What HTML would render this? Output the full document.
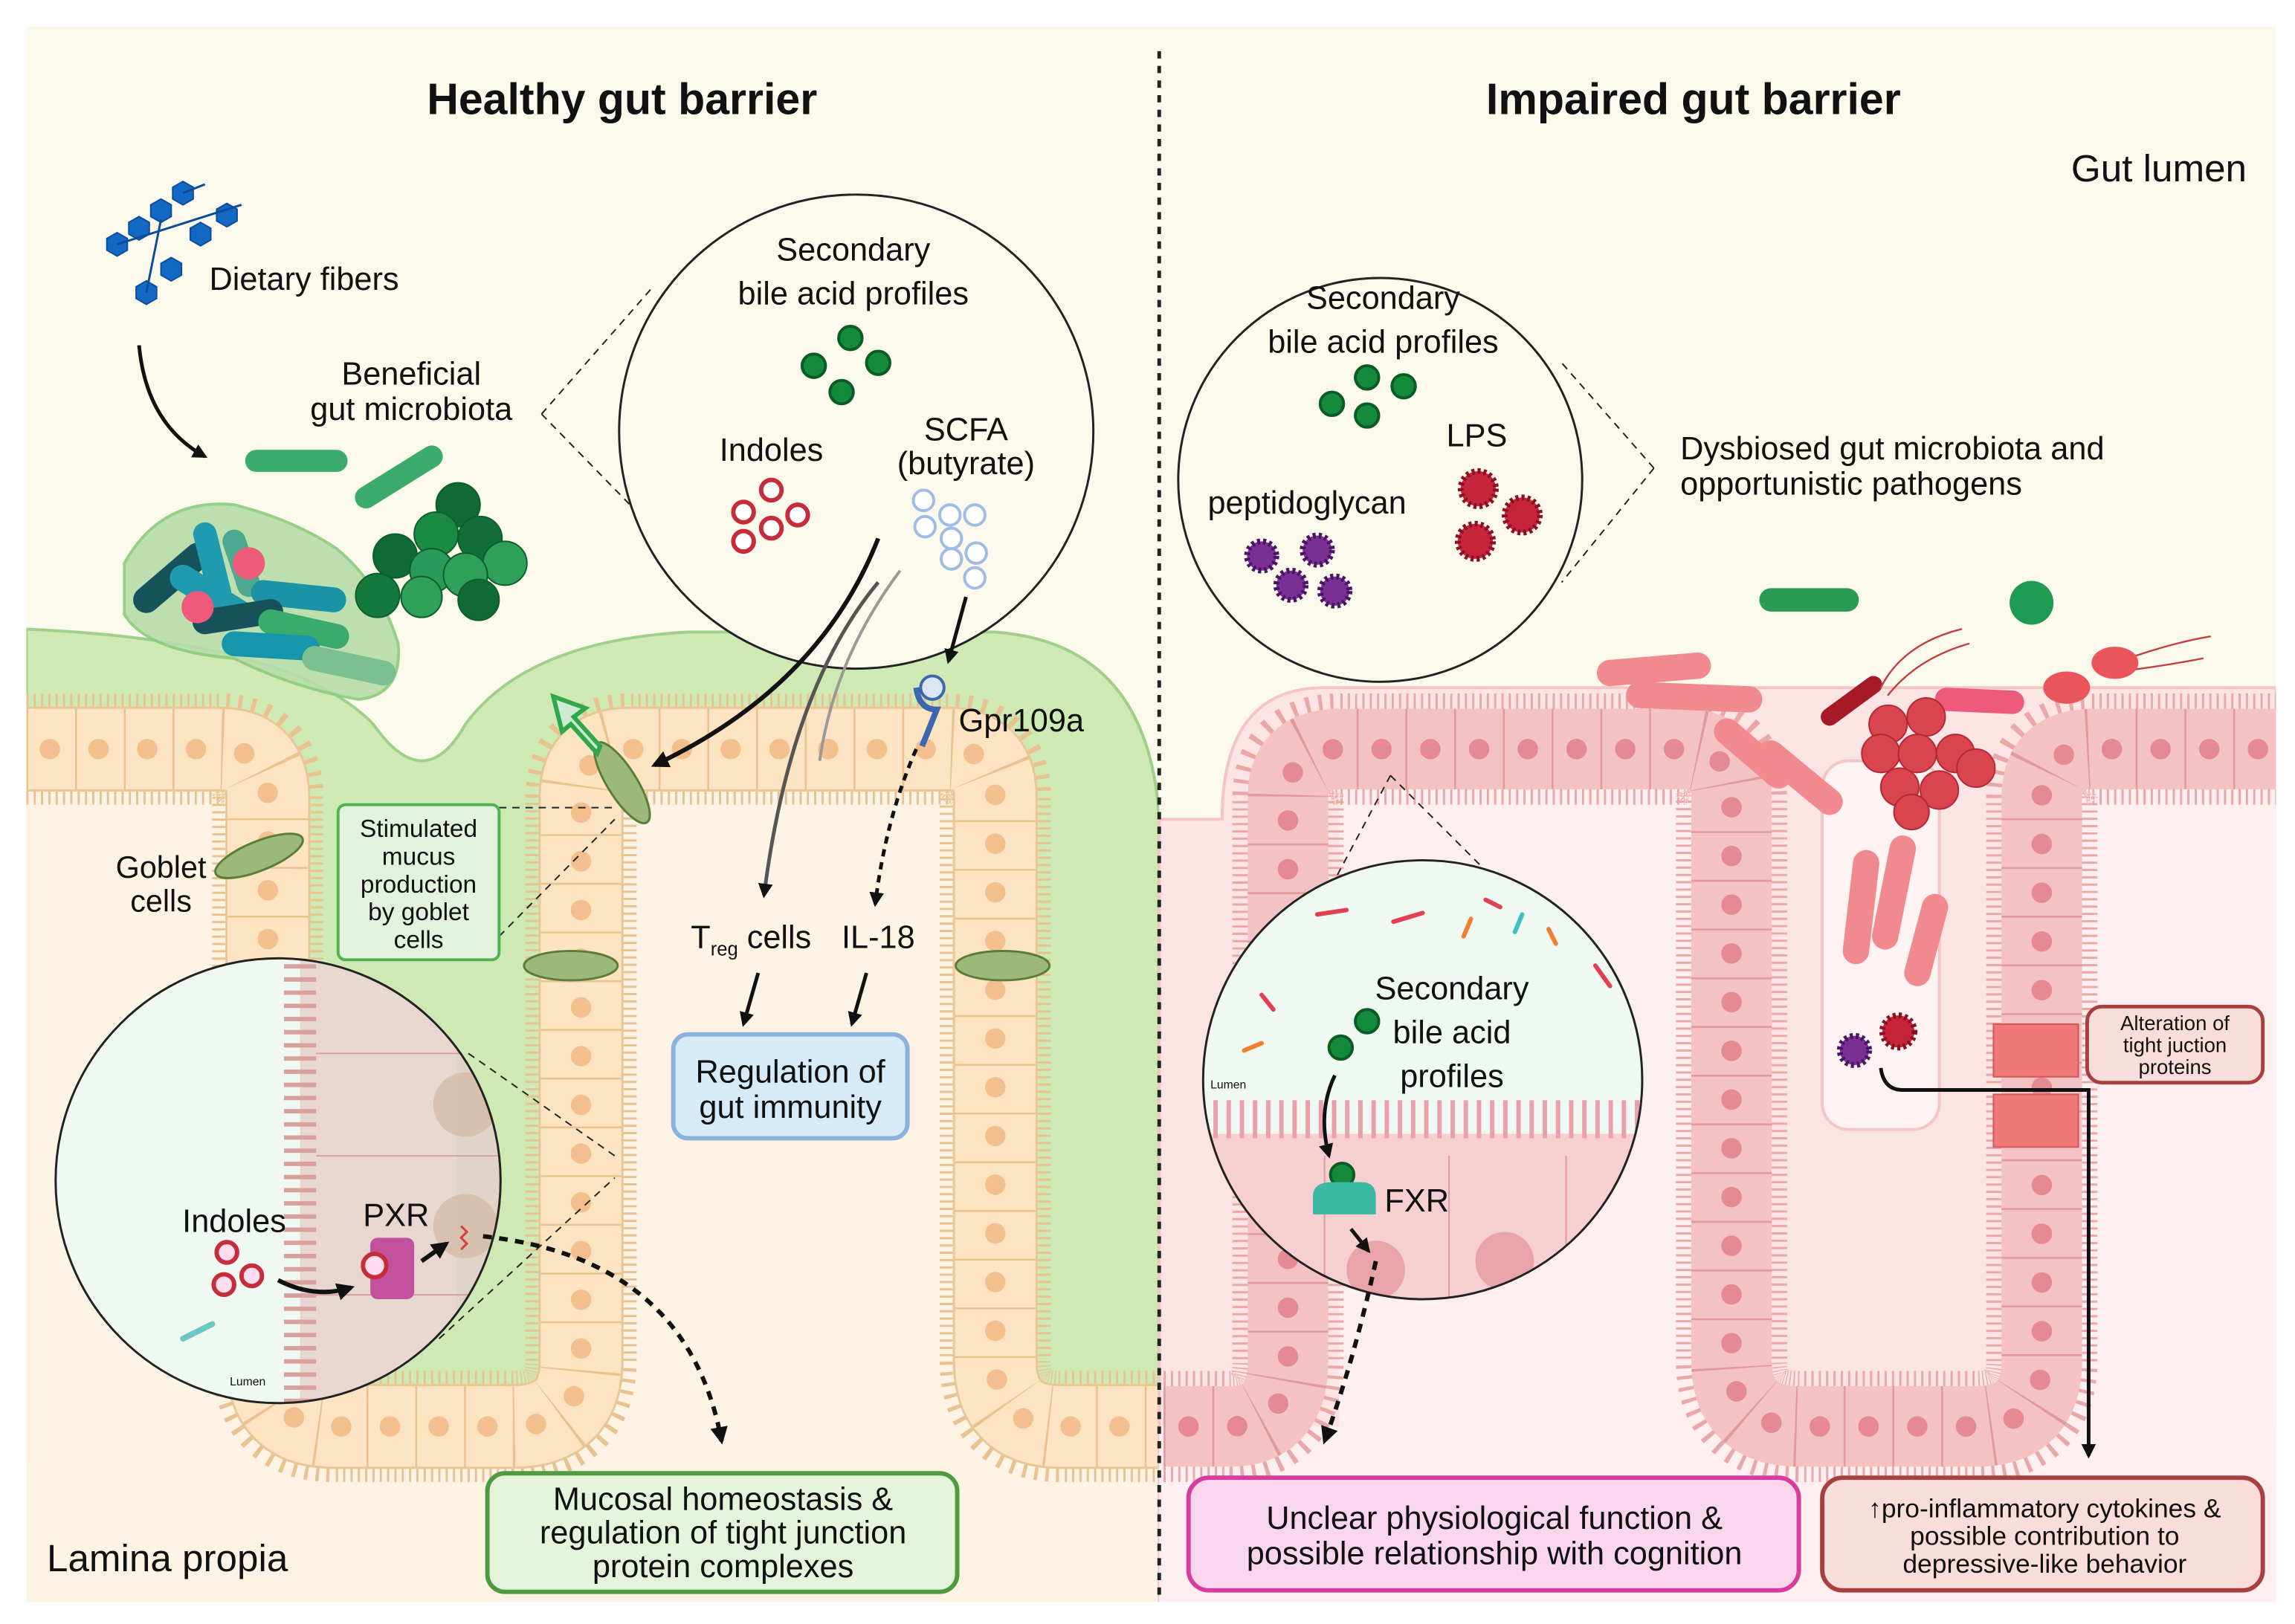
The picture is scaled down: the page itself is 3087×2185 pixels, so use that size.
<!DOCTYPE html>
<html><head><meta charset="utf-8"><style>
html,body{margin:0;padding:0;background:#fff}
svg{display:block}
text{font-family:"Liberation Sans",sans-serif;fill:#111}
</style></head><body>
<svg width="3087" height="2185" viewBox="0 0 1568 1110" preserveAspectRatio="none" xmlns="http://www.w3.org/2000/svg">
<defs>
<marker id="ah" viewBox="0 0 10 10" refX="8" refY="5" markerWidth="4" markerHeight="4" orient="auto"><path d="M0,0 L10,5 L0,10 Z" fill="#111"/></marker>
<clipPath id="panel"><rect x="18" y="18" width="1537" height="1077"/></clipPath>
</defs>
<rect width="1568" height="1110" fill="#fff"/>
<g clip-path="url(#panel)">
<!-- LEFT PANEL -->
<rect x="18" y="18" width="774" height="1077" fill="#fbf8ec"/>
<path d="M18 430 Q200 438 255 495 Q290 545 318 495 Q360 438 470 432 H680 Q785 440 792 560 V1000 H18 Z" fill="#cfe9b4" stroke="#9fd08a" stroke-width="2"/>
<rect x="18" y="512" width="165" height="583" fill="#fdf3e4"/>
<rect x="397" y="512" width="283" height="583" fill="#fdf3e4"/>
<rect x="18" y="975" width="774" height="120" fill="#fdf3e4"/>
<g fill="none" stroke-linejoin="round">
<path d="M18 512 H150 Q183 512 183 545 V930 Q183 975 228 975 H350 Q397 975 397 930 V545 Q397 512 430 512 H648 Q680 512 680 545 V930 Q680 975 725 975 H792" stroke="#e8c391" stroke-width="76" stroke-dasharray="1.5 3.5"/>
<path d="M18 512 H150 Q183 512 183 545 V930 Q183 975 228 975 H350 Q397 975 397 930 V545 Q397 512 430 512 H648 Q680 512 680 545 V930 Q680 975 725 975 H792" stroke="#e9c697" stroke-width="58"/>
<path d="M18 512 H150 Q183 512 183 545 V930 Q183 975 228 975 H350 Q397 975 397 930 V545 Q397 512 430 512 H648 Q680 512 680 545 V930 Q680 975 725 975 H792" stroke="#fce4c2" stroke-width="55"/>
<path d="M18 512 H150 Q183 512 183 545 V930 Q183 975 228 975 H350 Q397 975 397 930 V545 Q397 512 430 512 H648 Q680 512 680 545 V930 Q680 975 725 975 H792" stroke="#e8c391" stroke-width="55" stroke-dasharray="1.3 32"/>
<path d="M34 512 H150 Q183 512 183 545 V930 Q183 975 228 975 H350 Q397 975 397 930 V545 Q397 512 430 512 H648 Q680 512 680 545 V930 Q680 975 725 975 H792" stroke="#f3bf8f" stroke-width="14" stroke-linecap="round" stroke-dasharray="0 33.3"/>
</g>
<g fill="#9bb97a" stroke="#5c7d3a" stroke-width="1.5">
<ellipse cx="177" cy="585" rx="32" ry="10" transform="rotate(-22 177 585)"/>
<ellipse cx="425" cy="535" rx="32" ry="10" transform="rotate(58 425 535)"/>
<ellipse cx="390" cy="660" rx="32" ry="10"/>
<ellipse cx="685" cy="660" rx="32" ry="10"/>
</g>
<path d="M410 510 L392 490 L400 484 L378 476 L384 500 L390 495 L408 515 Z" fill="#cfe9d4" stroke="#2ea84a" stroke-width="3"/>
<text x="425" y="78" font-size="30" font-weight="bold" text-anchor="middle">Healthy gut barrier</text>
<g fill="#1368c4" stroke="#0b4d99" stroke-width="1">
<polygon points="73,163 80,159 87,163 87,171 80,175 73,171"/>
<polygon points="88,152 95,148 102,152 102,160 95,164 88,160"/>
<polygon points="103,140 110,136 117,140 117,148 110,152 103,148"/>
<polygon points="118,128 125,124 132,128 132,136 125,140 118,136"/>
<polygon points="130,156 137,152 144,156 144,164 137,168 130,164"/>
<polygon points="148,143 155,139 162,143 162,151 155,155 148,151"/>
<polygon points="110,180 117,176 124,180 124,188 117,192 110,188"/>
<polygon points="93,196 100,192 107,196 107,204 100,208 93,204"/>
</g>
<path d="M80 167 L165 140 M110 150 L100 200 M125 132 L140 126" stroke="#0b4d99" stroke-width="1.5"/>
<text x="143" y="198" font-size="22">Dietary fibers</text>
<path d="M95 236 Q100 290 140 312" fill="none" stroke="#111" stroke-width="2.5" marker-end="url(#ah)"/>
<text x="281" y="263" font-size="22" text-anchor="middle">Beneficial</text>
<text x="281" y="287" font-size="22" text-anchor="middle">gut microbiota</text>
<path d="M85 385 Q110 340 160 345 Q200 355 230 375 Q260 400 272 440 Q275 475 245 478 Q200 470 160 450 Q100 445 85 420 Z" fill="#b7ddaa" stroke="#8ccb7c" stroke-width="2" opacity="0.9"/>
<g stroke-linecap="round" fill="none">
<path d="M100 410 L135 380" stroke="#15525a" stroke-width="18"/>
<path d="M125 395 L165 420" stroke="#1f9aaf" stroke-width="18"/>
<path d="M140 365 L150 405" stroke="#1f9aaf" stroke-width="16"/>
<path d="M160 370 L170 400" stroke="#4ea78f" stroke-width="16"/>
<path d="M180 405 L228 410" stroke="#1b93a6" stroke-width="17"/>
<path d="M140 425 L185 418" stroke="#17525a" stroke-width="17"/>
<path d="M185 425 L230 435" stroke="#3aab6b" stroke-width="17"/>
<path d="M160 440 L210 443" stroke="#1695ab" stroke-width="17"/>
<path d="M215 450 L262 460" stroke="#7cc090" stroke-width="17"/>
<path d="M175 315 L230 315" stroke="#3aab6b" stroke-width="15"/>
<path d="M250 340 L295 312" stroke="#3aab6b" stroke-width="15"/>
</g>
<circle cx="170" cy="385" r="11" fill="#ef5a7a"/>
<circle cx="135" cy="415" r="11" fill="#ef5a7a"/>
<g stroke="#0d5e2b" stroke-width="1">
<circle cx="313" cy="345" r="15" fill="#0f6a33"/><circle cx="298" cy="365" r="15" fill="#1a8a45"/>
<circle cx="328" cy="368" r="15" fill="#126d36"/><circle cx="270" cy="380" r="15" fill="#0f6a33"/>
<circle cx="345" cy="385" r="15" fill="#2fa05a"/><circle cx="295" cy="390" r="15" fill="#2b9a58"/>
<circle cx="318" cy="393" r="15" fill="#2fa05a"/><circle cx="258" cy="407" r="15" fill="#13783b"/>
<circle cx="288" cy="408" r="14" fill="#2fa05a"/><circle cx="327" cy="410" r="14" fill="#0f6a33"/>
</g>
<line x1="370" y1="283" x2="447" y2="195" stroke="#222" stroke-dasharray="5 4"/>
<line x1="370" y1="283" x2="447" y2="362" stroke="#222" stroke-dasharray="5 4"/>
<circle cx="585" cy="295" r="162" fill="#fbf8ec" stroke="#222" stroke-width="1.5"/>
<text x="583" y="178" font-size="22" text-anchor="middle">Secondary</text>
<text x="583" y="208" font-size="22" text-anchor="middle">bile acid profiles</text>
<g fill="#148a3c" stroke="#0b5b24" stroke-width="2">
<circle cx="581" cy="231" r="8"/><circle cx="556" cy="250" r="8"/><circle cx="600" cy="248" r="8"/><circle cx="575" cy="268" r="8"/>
</g>
<text x="527" y="315" font-size="22" text-anchor="middle">Indoles</text>
<g fill="#fff" stroke="#c62d3b" stroke-width="3">
<circle cx="527" cy="335" r="7"/><circle cx="508" cy="350" r="7"/><circle cx="545" cy="352" r="7"/><circle cx="527" cy="361" r="7"/><circle cx="508" cy="370" r="7"/>
</g>
<text x="660" y="301" font-size="22" text-anchor="middle">SCFA</text>
<text x="660" y="324" font-size="22" text-anchor="middle">(butyrate)</text>
<g fill="#fff" stroke="#9fbce6" stroke-width="2">
<circle cx="631" cy="342" r="7"/><circle cx="649" cy="352" r="7"/><circle cx="666" cy="352" r="7"/><circle cx="632" cy="360" r="7"/><circle cx="650" cy="368" r="7"/><circle cx="667" cy="378" r="7"/><circle cx="650" cy="382" r="7"/><circle cx="666" cy="395" r="7"/>
</g>
<path d="M600 368 Q560 470 447 523" fill="none" stroke="#111" stroke-width="3" marker-end="url(#ah)"/>
<path d="M600 398 Q540 470 522 612" fill="none" stroke="#555" stroke-width="2.5" marker-end="url(#ah)"/>
<path d="M615 390 Q570 450 560 520" fill="none" stroke="#999" stroke-width="2"/>
<path d="M660 408 L648 452" fill="none" stroke="#111" stroke-width="2.5" marker-end="url(#ah)"/>
<circle cx="637" cy="470" r="8" fill="#dbe6f5" stroke="#3b66b0" stroke-width="2"/>
<path d="M626 470 Q628 485 640 485 L630 510" fill="none" stroke="#3b66b0" stroke-width="4"/>
<text x="655" y="500" font-size="22">Gpr109a</text>
<path d="M626 512 Q605 560 598 618" fill="none" stroke="#111" stroke-width="2.5" stroke-dasharray="5 4" marker-end="url(#ah)"/>
<text x="472" y="648" font-size="22">T<tspan font-size="13" dy="5">reg</tspan><tspan dy="-5"> cells</tspan></text>
<text x="575" y="648" font-size="22">IL-18</text>
<path d="M518 665 L508 700" stroke="#111" stroke-width="2.5" marker-end="url(#ah)"/>
<path d="M592 665 L582 700" stroke="#111" stroke-width="2.5" marker-end="url(#ah)"/>
<rect x="460" y="707" width="160" height="71" rx="10" fill="#d6ebf7" stroke="#8bb2dc" stroke-width="3"/>
<text x="540" y="740" font-size="22" text-anchor="middle">Regulation of</text>
<text x="540" y="764" font-size="22" text-anchor="middle">gut immunity</text>
<text x="110" y="600" font-size="21" text-anchor="middle">Goblet</text>
<text x="110" y="623" font-size="21" text-anchor="middle">cells</text>
<line x1="341" y1="552" x2="420" y2="552" stroke="#222" stroke-dasharray="5 4"/>
<line x1="341" y1="640" x2="420" y2="560" stroke="#222" stroke-dasharray="5 4"/>
<rect x="231" y="550" width="110" height="106" rx="5" fill="#e3f1df" stroke="#4fb34f" stroke-width="2"/>
<g font-size="17" text-anchor="middle"><text x="286" y="572">Stimulated</text><text x="286" y="591">mucus</text><text x="286" y="610">production</text><text x="286" y="629">by goblet</text><text x="286" y="648">cells</text></g>
<line x1="320" y1="720" x2="420" y2="790" stroke="#222" stroke-dasharray="5 4"/>
<line x1="300" y1="915" x2="420" y2="805" stroke="#222" stroke-dasharray="5 4"/>
<clipPath id="c1"><circle cx="190" cy="807" r="152"/></clipPath>
<g clip-path="url(#c1)">
<rect x="30" y="650" width="320" height="320" fill="#f0f8f2"/>
<rect x="205" y="650" width="145" height="320" fill="#e7d7d0"/>
<rect x="312" y="650" width="40" height="320" fill="#e0d4c9"/>
<path d="M205 650 V970" stroke="#d9a0a0" stroke-width="22" stroke-dasharray="3 6" fill="none"/>
<line x1="216" y1="720" x2="350" y2="720" stroke="#d9a0a0"/>
<line x1="216" y1="790" x2="350" y2="790" stroke="#d9a0a0"/>
<line x1="216" y1="885" x2="350" y2="885" stroke="#d9a0a0"/>
<circle cx="318" cy="755" r="22" fill="#d5bca8" opacity="0.8"/>
<circle cx="318" cy="838" r="22" fill="#d5bca8" opacity="0.8"/>
</g>
<circle cx="190" cy="807" r="152" fill="none" stroke="#222" stroke-width="1.5"/>
<text x="160" y="842" font-size="22" text-anchor="middle">Indoles</text>
<text x="248" y="838" font-size="22">PXR</text>
<g fill="#fde" stroke="#c62d3b" stroke-width="3"><circle cx="155" cy="856" r="7"/><circle cx="153" cy="878" r="7"/><circle cx="172" cy="872" r="7"/></g>
<rect x="253" y="846" width="30" height="42" rx="5" fill="#c2529e"/>
<circle cx="256" cy="865" r="8" fill="#fde" stroke="#c62d3b" stroke-width="3"/>
<path d="M190 875 Q215 888 240 880" fill="none" stroke="#111" stroke-width="3" marker-end="url(#ah)"/>
<path d="M288 862 L305 850" stroke="#111" stroke-width="3" marker-end="url(#ah)"/>
<path d="M315 838 l4 4 l-4 4 l4 4 l-4 4" stroke="#d04040" fill="none" stroke-width="1.5"/>
<path d="M125 915 L145 905" stroke="#6cc8c0" stroke-width="4" stroke-linecap="round"/>
<text x="157" y="947" font-size="8" fill="#2a6a4a">Lumen</text>
<path d="M330 845 Q470 860 493 985" fill="none" stroke="#111" stroke-width="3" stroke-dasharray="6 5" marker-end="url(#ah)"/>
<rect x="333" y="1007" width="321" height="81" rx="12" fill="#e6f3dc" stroke="#4e9a3e" stroke-width="3"/>
<g font-size="22" text-anchor="middle"><text x="494" y="1032">Mucosal homeostasis &amp;</text><text x="494" y="1055">regulation of tight junction</text><text x="494" y="1078">protein complexes</text></g>
<text x="32" y="1074" font-size="26">Lamina propia</text>

<!-- RIGHT PANEL -->
<rect x="792" y="18" width="763" height="1077" fill="#fbf8ec"/>
<path d="M835 560 Q835 470 905 470 H1555 V1095 H792 V560 Z" fill="#fce4e4" stroke="#f5c4c4" stroke-width="2"/>
<rect x="915" y="512" width="268" height="583" fill="#fdeef0"/>
<rect x="1395" y="512" width="160" height="583" fill="#fdeef0"/>
<rect x="792" y="975" width="763" height="120" fill="#fdeef0"/>
<rect x="1245" y="520" width="80" height="252" rx="18" fill="#fdf3f2" stroke="#f5c4c4" stroke-width="2"/>
<g fill="none" stroke-linejoin="round">
<path d="M795 975 H840 Q880 975 880 930 V545 Q880 512 915 512 H1150 Q1183 512 1183 545 V930 Q1183 975 1230 975 H1350 Q1395 975 1395 930 V545 Q1395 512 1430 512 H1555" stroke="#e9a8a8" stroke-width="76" stroke-dasharray="1.5 3.5"/>
<path d="M795 975 H840 Q880 975 880 930 V545 Q880 512 915 512 H1150 Q1183 512 1183 545 V930 Q1183 975 1230 975 H1350 Q1395 975 1395 930 V545 Q1395 512 1430 512 H1555" stroke="#f4c2c2" stroke-width="55"/>
<path d="M795 975 H840 Q880 975 880 930 V545 Q880 512 915 512 H1150 Q1183 512 1183 545 V930 Q1183 975 1230 975 H1350 Q1395 975 1395 930 V545 Q1395 512 1430 512 H1555" stroke="#e09a9e" stroke-width="55" stroke-dasharray="1.3 32"/>
<path d="M812 975 H840 Q880 975 880 930 V545 Q880 512 915 512 H1150 Q1183 512 1183 545 V930 Q1183 975 1230 975 H1350 Q1395 975 1395 930 V545 Q1395 512 1430 512 H1555" stroke="#e58a92" stroke-width="14" stroke-linecap="round" stroke-dasharray="0 33.3"/>
</g>
<rect x="1362" y="700" width="58" height="36" fill="#f07878" stroke="#d05858"/>
<rect x="1362" y="748" width="58" height="36" fill="#f07878" stroke="#d05858"/>
<line x1="792" y1="35" x2="792" y2="1092" stroke="#222" stroke-width="2.5" stroke-dasharray="5 5"/>
<text x="1157" y="78" font-size="30" font-weight="bold" text-anchor="middle">Impaired gut barrier</text>
<text x="1535" y="124" font-size="26" text-anchor="end">Gut lumen</text>
<line x1="1130" y1="320" x2="1067" y2="248" stroke="#222" stroke-dasharray="5 4"/>
<line x1="1130" y1="320" x2="1067" y2="398" stroke="#222" stroke-dasharray="5 4"/>
<circle cx="943" cy="328" r="138" fill="#fbf8ec" stroke="#222" stroke-width="1.5"/>
<text x="945" y="211" font-size="22" text-anchor="middle">Secondary</text>
<text x="945" y="241" font-size="22" text-anchor="middle">bile acid profiles</text>
<g fill="#148a3c" stroke="#0b5b24" stroke-width="2"><circle cx="934" cy="258" r="8"/><circle cx="910" cy="276" r="8"/><circle cx="959" cy="264" r="8"/><circle cx="934" cy="284" r="8"/></g>
<text x="893" y="351" font-size="22" text-anchor="middle">peptidoglycan</text>
<text x="1009" y="305" font-size="22" text-anchor="middle">LPS</text>
<g fill="#7a2f93" stroke="#4a1466" stroke-width="4" stroke-dasharray="2 2"><circle cx="862" cy="380" r="10"/><circle cx="900" cy="376" r="10"/><circle cx="882" cy="400" r="10"/><circle cx="912" cy="404" r="10"/></g>
<g fill="#c6243a" stroke="#8c1020" stroke-width="4" stroke-dasharray="2 2"><circle cx="1010" cy="334" r="12"/><circle cx="1040" cy="352" r="12"/><circle cx="1008" cy="370" r="12"/></g>
<text x="1148" y="314" font-size="22">Dysbiosed gut microbiota and</text>
<text x="1148" y="338" font-size="22">opportunistic pathogens</text>
<path d="M1210 410 H1262" stroke="#2a9a55" stroke-width="16" stroke-linecap="round"/>
<circle cx="1388" cy="412" r="15" fill="#1f9a52"/>
<g stroke-linecap="round" fill="none">
<path d="M1100 460 L1160 455" stroke="#f08a8f" stroke-width="18"/>
<path d="M1120 475 L1195 478" stroke="#f08a8f" stroke-width="18"/>
<path d="M1180 500 L1215 530" stroke="#f08a8f" stroke-width="18"/>
<path d="M1210 515 L1250 548" stroke="#f08a8f" stroke-width="18"/>
<path d="M1275 590 L1268 650" stroke="#f08a8f" stroke-width="18"/>
<path d="M1300 580 L1288 640" stroke="#f08a8f" stroke-width="18"/>
<path d="M1322 620 L1310 665" stroke="#f08a8f" stroke-width="18"/>
<path d="M1250 490 L1280 468" stroke="#a51a26" stroke-width="12"/>
<path d="M1330 478 L1375 480" stroke="#ee5a7a" stroke-width="16"/>
<path d="M1285 470 Q1300 440 1340 430 M1290 475 Q1310 450 1345 440" stroke="#c04040" stroke-width="1.2"/>
<path d="M1440 455 Q1480 440 1510 435 M1440 460 Q1480 455 1505 450" stroke="#c04040" stroke-width="1.2"/>
</g>
<ellipse cx="1412" cy="470" rx="16" ry="11" fill="#e9555a"/>
<ellipse cx="1445" cy="453" rx="16" ry="11" fill="#e9555a"/>
<g fill="#d9444e" stroke="#b02a36"><circle cx="1290" cy="495" r="13"/><circle cx="1316" cy="490" r="13"/><circle cx="1285" cy="515" r="13"/><circle cx="1310" cy="515" r="13"/><circle cx="1336" cy="515" r="13"/><circle cx="1298" cy="538" r="13"/><circle cx="1325" cy="540" r="13"/><circle cx="1350" cy="525" r="13"/><circle cx="1306" cy="555" r="12"/></g>
<circle cx="1267" cy="718" r="10" fill="#7a2f93" stroke="#4a1466" stroke-width="4" stroke-dasharray="2 2"/>
<circle cx="1297" cy="705" r="11" fill="#c6243a" stroke="#8c1020" stroke-width="4" stroke-dasharray="2 2"/>
<rect x="1426" y="688" width="120" height="52" rx="10" fill="#f9dcdc" stroke="#a8403f" stroke-width="2.5"/>
<g font-size="14" text-anchor="middle"><text x="1486" y="704">Alteration of</text><text x="1486" y="719">tight juction</text><text x="1486" y="734">proteins</text></g>
<path d="M1285 730 Q1287 745 1300 745 H1427 V995" fill="none" stroke="#111" stroke-width="2.5" marker-end="url(#ah)"/>
<line x1="950" y1="530" x2="870" y2="680" stroke="#222" stroke-dasharray="5 4"/>
<line x1="950" y1="530" x2="1045" y2="625" stroke="#222" stroke-dasharray="5 4"/>
<clipPath id="c2"><circle cx="972" cy="738" r="150"/></clipPath>
<g clip-path="url(#c2)">
<rect x="820" y="585" width="305" height="305" fill="#f0f8f2"/>
<rect x="820" y="775" width="305" height="120" fill="#f5cfd2"/>
<path d="M820 765 H1125" stroke="#eaa0a8" stroke-width="26" stroke-dasharray="3 6" fill="none"/>
<line x1="905" y1="790" x2="905" y2="890" stroke="#e09a9e"/>
<line x1="990" y1="790" x2="990" y2="890" stroke="#e09a9e"/>
<line x1="1070" y1="790" x2="1070" y2="890" stroke="#e09a9e"/>
<circle cx="940" cy="868" r="20" fill="#e8a4a8"/>
<circle cx="1028" cy="862" r="20" fill="#e8a4a8"/>
<g stroke-linecap="round" stroke-width="3" fill="none"><path d="M900 625 l20 -3" stroke="#e04050"/><path d="M952 630 l20 -6" stroke="#e04050"/><path d="M1015 615 l10 5" stroke="#e04050"/><path d="M1000 640 l5 -12" stroke="#f08030"/><path d="M1040 625 l-5 12" stroke="#40c0c0"/><path d="M1058 635 l5 10" stroke="#f08030"/><path d="M862 680 l8 10" stroke="#e04050"/><path d="M1090 660 l10 14" stroke="#e04050"/><path d="M850 718 l12 -5" stroke="#f08030"/></g>
</g>
<circle cx="972" cy="738" r="150" fill="none" stroke="#222" stroke-width="1.5"/>
<g font-size="22" text-anchor="middle"><text x="992" y="683">Secondary</text><text x="992" y="713">bile acid</text><text x="992" y="743">profiles</text></g>
<g fill="#148a3c" stroke="#0b5b24" stroke-width="2"><circle cx="934" cy="698" r="8"/><circle cx="916" cy="716" r="8"/><circle cx="917" cy="803" r="8"/></g>
<path d="M897 818 Q897 808 910 808 H930 Q940 808 940 818 V830 H897 Z" fill="#3ab8a0"/>
<text x="946" y="828" font-size="22">FXR</text>
<text x="827" y="744" font-size="8" fill="#2a6a4a">Lumen</text>
<path d="M912 735 Q900 760 908 790" fill="none" stroke="#111" stroke-width="2.5" marker-end="url(#ah)"/>
<path d="M923 840 L935 855" stroke="#111" stroke-width="2.5" marker-end="url(#ah)"/>
<path d="M940 862 Q925 930 905 985" fill="none" stroke="#111" stroke-width="3" stroke-dasharray="6 5" marker-end="url(#ah)"/>
<rect x="812" y="1010" width="417" height="77" rx="14" fill="#fad6ec" stroke="#d63e9e" stroke-width="3"/>
<g font-size="22" text-anchor="middle"><text x="1021" y="1045">Unclear physiological function &amp;</text><text x="1021" y="1069">possible relationship with cognition</text></g>
<rect x="1245" y="1010" width="301" height="77" rx="14" fill="#f9dcdc" stroke="#a8403f" stroke-width="3"/>
<g font-size="18" text-anchor="middle"><text x="1397" y="1037">↑pro-inflammatory cytokines &amp;</text><text x="1397" y="1056">possible contribution to</text><text x="1397" y="1075">depressive-like behavior</text></g>
</g>
</svg>
</body></html>
